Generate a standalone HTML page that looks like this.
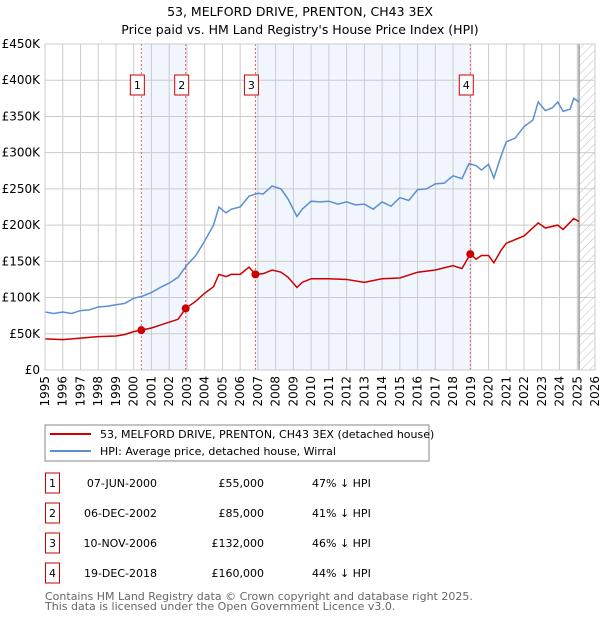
<!DOCTYPE html>
<html><head><meta charset="utf-8">
<style>
body{margin:0;background:#fff;font-family:"DejaVu Sans","Liberation Sans",sans-serif;}
svg{display:block}
</style></head>
<body>
<svg id="chart" width="600" height="620" xmlns="http://www.w3.org/2000/svg" font-family="DejaVu Sans, Liberation Sans, sans-serif">
<defs>
<pattern id="hatch" width="6" height="6" patternUnits="userSpaceOnUse" patternTransform="rotate(45)">
<line x1="0" y1="0" x2="0" y2="6" stroke="#bbb" stroke-width="1"/>
</pattern>
</defs>
<text x="300" y="16" text-anchor="middle" font-size="12.5">53, MELFORD DRIVE, PRENTON, CH43 3EX</text>
<text x="300" y="34" text-anchor="middle" font-size="12.5">Price paid vs. HM Land Registry's House Price Index (HPI)</text>
<g id="plot"></g>
<g id="legend">
<rect x="45" y="425" width="384" height="36" fill="#fff" stroke="#888"/>
<line x1="50" y1="434" x2="91" y2="434" stroke="#cc0000" stroke-width="2"/>
<text x="100" y="438" font-size="11">53, MELFORD DRIVE, PRENTON, CH43 3EX (detached house)</text>
<line x1="50" y1="451" x2="91" y2="451" stroke="#5b8fd4" stroke-width="2"/>
<text x="100" y="455" font-size="11">HPI: Average price, detached house, Wirral</text>
</g>
<g id="table" font-size="11"></g>
<text x="45" y="600" font-size="11" fill="#666">Contains HM Land Registry data © Crown copyright and database right 2025.</text>
<text x="45" y="610" font-size="11" fill="#666">This data is licensed under the Open Government Licence v3.0.</text>
</svg>
<script>
const hpiYears=[1995,1995.5,1996,1996.5,1997,1997.5,1998,1998.5,1999,1999.5,2000,2000.5,2001,2001.5,2002,2002.5,2003,2003.5,2004,2004.5,2004.8,2005.2,2005.5,2006,2006.5,2007,2007.3,2007.8,2008.3,2008.7,2009.2,2009.5,2010,2010.5,2011,2011.5,2012,2012.5,2013,2013.5,2014,2014.5,2015,2015.5,2016,2016.5,2017,2017.5,2018,2018.5,2018.9,2019.3,2019.6,2020,2020.3,2020.7,2021,2021.5,2022,2022.5,2022.8,2023.2,2023.6,2023.9,2024.2,2024.6,2024.8,2025.1];
const hpiValues=[80,78,80,78,82,83,87,88,90,92,99,102,107,114,120,128,145,158,178,200,225,217,222,225,240,244,243,254,250,236,212,222,233,232,233,229,232,228,229,222,232,226,238,234,249,250,257,258,268,264,285,282,276,284,265,295,315,320,336,345,370,358,362,370,357,360,375,370];
const propYears=[1995,1996,1997,1998,1999,1999.5,2000,2000.43,2001,2001.5,2002,2002.5,2002.93,2003.5,2004,2004.5,2004.8,2005.2,2005.5,2006,2006.5,2006.86,2007.3,2007.8,2008.3,2008.7,2009.2,2009.5,2010,2011,2012,2013,2014,2015,2016,2017,2018,2018.5,2018.97,2019.3,2019.6,2020,2020.3,2020.7,2021,2022,2022.8,2023.2,2023.9,2024.2,2024.8,2025.1];
const propValues=[43,42,44,46,47,49,53,55,58,62,66,70,85,95,106,115,132,129,132,132,142,132,133,138,135,128,114,121,126,126,125,121,126,127,135,138,144,140,160,153,158,158,148,165,175,185,203,196,200,194,209,205];
const saleLabels=["1","2","3","4"];
const saleYears=[2000.43,2002.93,2006.86,2018.97];
const salePrices=[55,85,132,160];
const saleDates=["07-JUN-2000","06-DEC-2002","10-NOV-2006","19-DEC-2018"];
const salePriceText=["£55,000","£85,000","£132,000","£160,000"];
const saleHpiText=["47% ↓ HPI","41% ↓ HPI","46% ↓ HPI","44% ↓ HPI"];
const yTicks=[0,50,100,150,200,250,300,350,400,450];
const yTickLabels=["£0","£50K","£100K","£150K","£200K","£250K","£300K","£350K","£400K","£450K"];
const xTicks=[1995,1996,1997,1998,1999,2000,2001,2002,2003,2004,2005,2006,2007,2008,2009,2010,2011,2012,2013,2014,2015,2016,2017,2018,2019,2020,2021,2022,2023,2024,2025,2026];

const NS="http://www.w3.org/2000/svg";
const X0=45,X1=595,Y0=370,Y1=44;
const xs=y=>X0+(y-1995)/(2026-1995)*(X1-X0);
const ys=v=>Y0-v/450*(Y0-Y1);
const plot=document.getElementById('plot');
function mk(tag,attrs,parent){const e=document.createElementNS(NS,tag);for(const k in attrs)e.setAttribute(k,attrs[k]);(parent||plot).appendChild(e);return e;}

// shaded bands
for(let i=0;i<saleYears.length;i+=2){
  const x1=xs(saleYears[i]),x2=xs(saleYears[i+1]);
  const b=mk('rect',{x:x1,y:Y1,width:x2-x1,height:Y0-Y1,fill:'#eef3fc',opacity:0.8});
  
  
}
// hatch future
const hx=xs(2025.1);
const h=mk('rect',{x:hx,y:Y1,width:X1-hx,height:Y0-Y1,fill:'url(#hatch)'});


// grid
yTicks.forEach((t,i)=>{
  const g=mk('line',{x1:X0,x2:X1,y1:ys(t),y2:ys(t),stroke:'#ccc','stroke-width':1});
  
  
  const tx=mk('text',{x:X0-5,y:ys(t)+4,'text-anchor':'end','font-size':12});
  tx.textContent=yTickLabels[i];
  
  
});
xTicks.forEach(t=>{
  const g=mk('line',{x1:xs(t),x2:xs(t),y1:Y1,y2:Y0,stroke:'#ccc','stroke-width':1});
  
  
  const x=xs(t)+4,y=Y0+6;
  const tx=mk('text',{x:x,y:y,'text-anchor':'end','font-size':12,transform:`rotate(-90 ${x} ${y})`});
  tx.textContent=t;
  
  
});
const vl=mk('line',{x1:hx,x2:hx,y1:Y1,y2:Y0,stroke:'#999','stroke-width':1.5});


// sale vlines + labels
saleYears.forEach((s,i)=>{
  const l=mk('line',{x1:xs(s),x2:xs(s),y1:Y1,y2:Y0,stroke:'#e06060','stroke-width':1,'stroke-dasharray':'2,2'});
  
  
  const r=mk('rect',{x:xs(s)-11,y:75,width:14,height:20,fill:'#fff',stroke:'#cc0000'});
  
  
  const t=mk('text',{x:xs(s)-4,y:89,'text-anchor':'middle','font-size':11});
  t.textContent=saleLabels[i];
  
  
});
// lines
const hp=mk('polyline',{points:hpiYears.map((y,i)=>xs(y)+','+ys(hpiValues[i])).join(' '),fill:'none',stroke:'#5b8fd4','stroke-width':1.5});


const pp=mk('polyline',{points:propYears.map((y,i)=>xs(y)+','+ys(propValues[i])).join(' '),fill:'none',stroke:'#cc0000','stroke-width':1.5});


saleYears.forEach((s,i)=>{
  const c=mk('circle',{cx:xs(s),cy:ys(salePrices[i]),r:4,fill:'#cc0000'});
  
  
});
const fr=mk('rect',{x:X0,y:Y1,width:X1-X0,height:Y0-Y1,fill:'none',stroke:'#ccc'});


// table
const tb=document.getElementById('table');
saleLabels.forEach((lb,i)=>{
  const cy=483+i*30;
  const r=mk('rect',{x:45.5,y:cy-10,width:14,height:20,fill:'#fff',stroke:'#cc0000'},tb);
  
  
  const t0=mk('text',{x:52.5,y:cy+4,'text-anchor':'middle'},tb);t0.textContent=lb;
  
  
  const t1=mk('text',{x:157,y:cy+4,'text-anchor':'end'},tb);t1.textContent=saleDates[i];
  
  
  const t2=mk('text',{x:264,y:cy+4,'text-anchor':'end'},tb);t2.textContent=salePriceText[i];
  
  
  const t3=mk('text',{x:312,y:cy+4},tb);t3.textContent=saleHpiText[i];
  
  
});
</script>
</body></html>
